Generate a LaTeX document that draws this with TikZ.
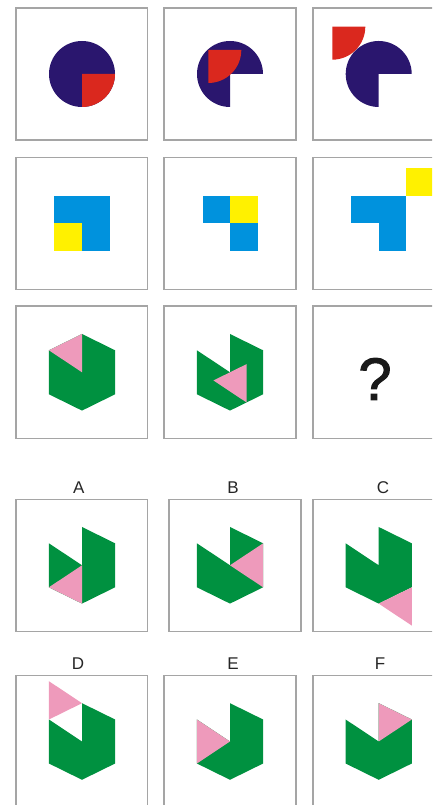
\documentclass[tikz,border=0pt]{standalone}
\usepackage{fontspec}
\setmainfont{Liberation Sans}
\newfontfamily\qmfont[FakeBold=1.6]{Liberation Sans}
\definecolor{navy}{RGB}{42,22,110}
\definecolor{redq}{RGB}{218,40,30}
\definecolor{blueq}{RGB}{0,146,221}
\definecolor{yellowq}{RGB}{255,241,0}
\definecolor{greenq}{RGB}{0,145,64}
\definecolor{pinkq}{RGB}{238,154,187}
\definecolor{boxgray}{RGB}{165,165,165}
\begin{document}
\begin{tikzpicture}[x=1pt,y=1pt,
  panel/.style={draw=boxgray,line width=1.1pt},
  lbl/.style={font=\fontsize{17}{19}\selectfont,anchor=base,inner sep=0pt,text=black!85},
  qm/.style={font=\qmfont\fontsize{60}{64}\selectfont,anchor=base,inner sep=0pt,text=black!90},
  hexg/.style={fill=greenq},
  pk/.style={fill=pinkq}]
\useasboundingbox (0,0) rectangle (432,805);
\clip (0,0) rectangle (432,805);
% ---------- panels ----------
\draw[panel] (16,665) rectangle (147.5,797);
\draw[panel] (164,665) rectangle (296,797);
\draw[panel] (313,665) rectangle (445,797);
\draw[panel] (16,515.7) rectangle (147.5,647.7);
\draw[panel] (164,515.7) rectangle (296,647.7);
\draw[panel] (313,515.7) rectangle (445,647.7);
\draw[panel] (16,366.7) rectangle (147.5,499);
\draw[panel] (164,366.7) rectangle (296,499);
\draw[panel] (313,366.7) rectangle (445,499);
\draw[panel] (16,173.3) rectangle (147.5,305.7);
\draw[panel] (169,173.3) rectangle (301,305.7);
\draw[panel] (313,173.3) rectangle (445,305.7);
\draw[panel] (16,-5) rectangle (147.5,129.3);
\draw[panel] (164,-5) rectangle (296,129.3);
\draw[panel] (313,-5) rectangle (445,129.3);
% ---------- row 1 ----------
\fill[navy] (82,731) circle[radius=33];
\fill[redq] (82,731) -- ++(33,0) arc[start angle=0,end angle=-90,radius=33] -- cycle;
\fill[navy] (230,731) -- ++(33,0) arc[start angle=0,end angle=270,radius=33] -- cycle;
\fill[redq] (208.3,755) -- ++(33,0) arc[start angle=0,end angle=-90,radius=33] -- cycle;
\fill[navy] (378.7,731) -- ++(33,0) arc[start angle=0,end angle=270,radius=33] -- cycle;
\fill[redq] (332.3,778.3) -- ++(33,0) arc[start angle=0,end angle=-90,radius=33] -- cycle;
% ---------- row 2 ----------
\fill[blueq] (54.3,554) rectangle (109.7,609.4);
\fill[yellowq] (54.3,554) rectangle (82,581.7);
\fill[blueq] (202.6,581.7) rectangle (230.3,609.4);
\fill[blueq] (230.3,554) rectangle (258,581.7);
\fill[yellowq] (230.3,581.7) rectangle (258,609.4);
\fill[blueq] (351,581.7) rectangle (406.4,609.4);
\fill[blueq] (378.7,554) rectangle (406.4,581.7);
\fill[yellowq] (406.4,609.4) rectangle (434.1,637.1);
% ---------- row 3 ----------
\begin{scope}[shift={(82,432.7)}]
  \fill[hexg] (0,38.3) -- (33.1,22) -- (33.1,-22) -- (0,-38.3) -- (-33.1,-22) -- (-33.1,22) -- cycle;
  \fill[pk] (0,38.3) -- (-33.1,22) -- (0,0) -- cycle;
\end{scope}
\begin{scope}[shift={(230,432.7)}]
  \fill[hexg] (0,0) -- (0,38.3) -- (33.1,22) -- (33.1,-22) -- (0,-38.3) -- (-33.1,-22) -- (-33.1,22) -- cycle;
  \fill[pk] (16.55,8.15) -- (-16.55,-8.15) -- (16.55,-30.15) -- cycle;
\end{scope}
\node[qm] (q) at (375,405) {?};
% ---------- labels ----------
\node[lbl] (la) at (78.7,311.7) {A};
\node[lbl] (lb) at (233,311.7) {B};
\node[lbl] (lc) at (383,311.7) {C};
\node[lbl] (ld) at (78,135) {D};
\node[lbl] (le) at (233,135) {E};
\node[lbl] (lf) at (380,135) {F};
% ---------- options A-C ----------
\begin{scope}[shift={(82,239.7)}]
  \fill[hexg] (0,0) -- (0,38.3) -- (33.1,22) -- (33.1,-22) -- (0,-38.3) -- (-33.1,-22) -- (-33.1,22) -- cycle;
  \fill[pk] (-33.1,-22) -- (0,0) -- (0,-38.3) -- cycle;
\end{scope}
\begin{scope}[shift={(230,239.7)}]
  \fill[hexg] (0,0) -- (0,38.3) -- (33.1,22) -- (33.1,-22) -- (0,-38.3) -- (-33.1,-22) -- (-33.1,22) -- cycle;
  \fill[pk] (0,0) -- (33.1,22) -- (33.1,-22) -- cycle;
\end{scope}
\begin{scope}[shift={(378.7,239.7)}]
  \fill[hexg] (0,0) -- (0,38.3) -- (33.1,22) -- (33.1,-22) -- (0,-38.3) -- (-33.1,-22) -- (-33.1,22) -- cycle;
  \fill[pk] (33.1,-22) -- (0,-38.3) -- (33.1,-60.3) -- cycle;
\end{scope}
% ---------- options D-F ----------
\begin{scope}[shift={(82,63.5)}]
  \fill[hexg] (0,0) -- (0,38.3) -- (33.1,22) -- (33.1,-22) -- (0,-38.3) -- (-33.1,-22) -- (-33.1,22) -- cycle;
  \fill[pk] (-33.1,22) -- (-33.1,60.3) -- (0,38.3) -- cycle;
\end{scope}
\begin{scope}[shift={(230,63.5)}]
  \fill[hexg] (0,0) -- (0,38.3) -- (33.1,22) -- (33.1,-22) -- (0,-38.3) -- (-33.1,-22) -- (-33.1,22) -- cycle;
  \fill[pk] (-33.1,22) -- (0,0) -- (-33.1,-22) -- cycle;
\end{scope}
\begin{scope}[shift={(378.7,63.5)}]
  \fill[hexg] (0,0) -- (0,38.3) -- (33.1,22) -- (33.1,-22) -- (0,-38.3) -- (-33.1,-22) -- (-33.1,22) -- cycle;
  \fill[pk] (0,0) -- (0,38.3) -- (33.1,22) -- cycle;
\end{scope}
\end{tikzpicture}
\end{document}
